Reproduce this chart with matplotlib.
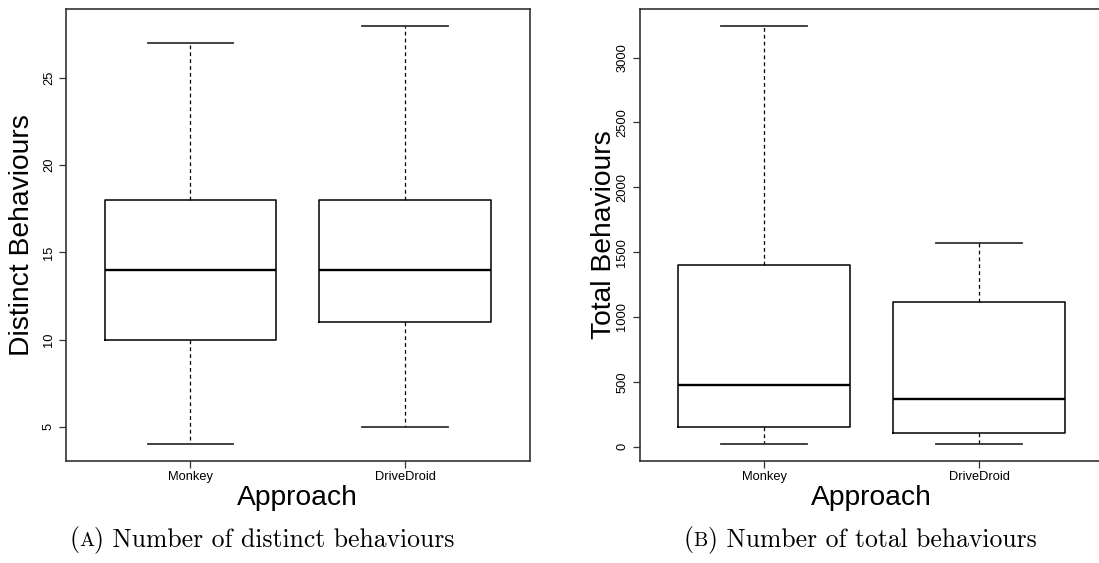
import matplotlib
matplotlib.use("Agg")
import matplotlib.pyplot as plt
from matplotlib.offsetbox import TextArea, HPacker, AnnotationBbox

# ---- data ----
categories = ["Monkey", "DriveDroid"]

# Panel A: distinct behaviours (whisker low, Q1, median, Q3, whisker high)
distinct_low = [4, 5]
distinct_q1 = [10, 11]
distinct_med = [14, 14]
distinct_q3 = [18, 18]
distinct_high = [27, 28]
distinct_yticks = [5, 10, 15, 20, 25]

# Panel B: total behaviours
total_low = [23, 18]
total_q1 = [152, 103]
total_med = [473, 370]
total_q3 = [1400, 1117]
total_high = [3246, 1570]
total_yticks = [0, 500, 1000, 1500, 2000, 2500, 3000]

caption_letters = ["A", "B"]
caption_texts = ["Number of distinct behaviours", "Number of total behaviours"]
ylabels = ["Distinct Behaviours", "Total Behaviours"]
xlabel = "Approach"

W, H = 1099, 563
fig = plt.figure(figsize=(W / 100, H / 100), dpi=100)
sans = ["Liberation Sans", "DejaVu Sans"]
serif = ["cmr10", "DejaVu Serif"]


def stats(lo, q1, med, q3, hi):
    return [dict(label=c, whislo=a, q1=b, med=m, q3=d, whishi=e, fliers=[])
            for c, a, b, m, d, e in zip(categories, lo, q1, med, q3, hi)]


def caption_box(letter, text, cx_px, bottom_px):
    big = dict(family=serif, fontsize=18.5, color="black")
    small = dict(family=serif, fontsize=14.5, color="black")
    parts = [TextArea("(", textprops=big),
             TextArea(letter, textprops=small),
             TextArea(") " + text, textprops=big)]
    pack = HPacker(children=parts, align="baseline", pad=0, sep=0)
    ab = AnnotationBbox(pack, (cx_px / W, 1 - bottom_px / H), xycoords="figure fraction",
                        box_alignment=(0.5, 0.0), frameon=False, pad=0)
    fig.add_artist(ab)


def make_panel(left_px, right_px, st, yticks, ylabel, letter, captext, ylab_x, cap_x):
    ax = fig.add_axes([left_px / W, 1 - 461 / H, (right_px - left_px) / W, 452 / H])
    ax.bxp(st, positions=[1, 2], widths=0.8, showfliers=False,
           boxprops=dict(color="black", linewidth=1.1),
           medianprops=dict(color="black", linewidth=1.7),
           whiskerprops=dict(color="black", linewidth=0.9, linestyle=(0, (3, 2.5))),
           capprops=dict(color="#333333", linewidth=1.3),
           capwidths=0.4)
    lo = min(s["whislo"] for s in st)
    hi = max(s["whishi"] for s in st)
    r = hi - lo
    ax.set_ylim(lo - 0.04 * r, hi + 0.04 * r)
    ax.set_xlim(0.42, 2.58)
    ax.set_yticks(yticks)
    ax.set_yticklabels([str(t) for t in yticks], rotation=90, va="center",
                       family=sans, fontsize=9.3)
    ax.set_xticks([1, 2])
    ax.set_xticklabels(categories, family=sans, fontsize=9.3)
    ax.tick_params(axis="both", length=5, width=0.9, color="#333333", pad=2.5)
    ax.tick_params(axis="y", pad=3)
    for sp in ax.spines.values():
        sp.set_color("#333333")
        sp.set_linewidth(1.2)
    cx = (left_px + right_px) / 2 / W
    fig.text(cx, 1 - 505 / H, xlabel,
             ha="center", va="baseline", family=sans, fontsize=20.3)
    fig.text(ylab_x / W, 1 - 235 / H, ylabel, rotation=90, ha="center", va="center",
             family=sans, fontsize=20.3)
    caption_box(letter, captext, cap_x, 553)
    return ax


make_panel(66, 529.5,
           stats(distinct_low, distinct_q1, distinct_med, distinct_q3, distinct_high),
           distinct_yticks, ylabels[0], caption_letters[0], caption_texts[0], 22, 262)
make_panel(639.5, 1103.7,
           stats(total_low, total_q1, total_med, total_q3, total_high),
           total_yticks, ylabels[1], caption_letters[1], caption_texts[1], 604, 860)

fig.savefig("out.png", dpi=100)
